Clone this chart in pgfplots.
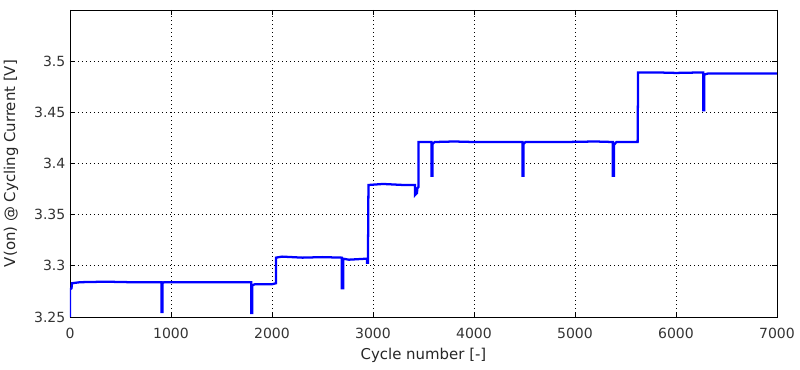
\documentclass[border=0pt]{standalone}
\usepackage{fontspec}
\setmainfont{DejaVu Sans}
\usepackage{pgfplots}
\pgfplotsset{compat=1.18}
\begin{document}
\begin{tikzpicture}
\useasboundingbox (-52.5pt,-39.75pt) rectangle (547.5pt,237.75pt);
\begin{axis}[
  at={(0,0)}, anchor=south west,
  scale only axis,
  width=530.25pt, height=230.25pt,
  xmin=0, xmax=7000, ymin=3.25, ymax=3.55,
  xtick={0,1000,...,7000},
  ytick={3.25,3.3,3.35,3.4,3.45,3.5},
  yticklabels={3.25,3.3,3.35,3.4,3.45,3.5},
  scaled x ticks=false,
  xticklabel style={/pgf/number format/1000 sep={}, yshift=-5pt},
  /pgf/number format/assume math mode=true,
  tick align=inside,
  xtick pos=both, ytick pos=both,
  major tick length=3.75pt,
  tick style={black, line width=0.6pt},
  axis line style={black, line width=0.6pt},
  grid=major,
  major grid style={black, line width=0.6pt, dash pattern=on 0.7pt off 2.3pt},
  ticklabel style={font=\fontsize{10.5}{12}\selectfont, text=black!80},
  label style={font=\fontsize{11.2}{13}\selectfont, text=black!85},
  xlabel={Cycle number [-]},
  ylabel={V(on) @ Cycling Current [V]},
  xlabel style={yshift=0pt},
  ylabel style={yshift=5pt},
]
\addplot[color=blue, line width=1.7pt, line join=miter] coordinates {
(0,3.25) (0,3.277) (15,3.278) (20,3.283) (100,3.284) (350,3.2845) (600,3.284)
(905,3.284) (905,3.255) (915,3.255) (915,3.283) (930,3.284) (1300,3.284)
(1795,3.284) (1795,3.254) (1805,3.254) (1805,3.281) (1830,3.282) (2000,3.282) (2040,3.283)
(2040,3.308) (2100,3.309) (2300,3.308) (2500,3.3085) (2690,3.308)
(2690,3.278) (2705,3.278) (2705,3.307) (2760,3.306) (2940,3.307)
(2940,3.303) (2950,3.303) (2955,3.379) (3100,3.380) (3300,3.379) (3415,3.379)
(3415,3.369) (3435,3.371) (3440,3.376) (3450,3.377) (3450,3.421)
(3580,3.421) (3580,3.388) (3590,3.388) (3590,3.419) (3610,3.421)
(3800,3.4215) (4000,3.421) (4200,3.421)
(4480,3.421) (4480,3.388) (4490,3.388) (4490,3.419) (4510,3.421)
(4900,3.421) (5200,3.4215)
(5375,3.421) (5375,3.388) (5385,3.388) (5385,3.418) (5410,3.421) (5620,3.421)
(5625,3.489) (5800,3.489) (6000,3.4885)
(6270,3.489) (6270,3.452) (6280,3.452) (6280,3.487) (6320,3.488) (6600,3.488) (7000,3.488)
};
\end{axis}
\end{tikzpicture}
\end{document}
